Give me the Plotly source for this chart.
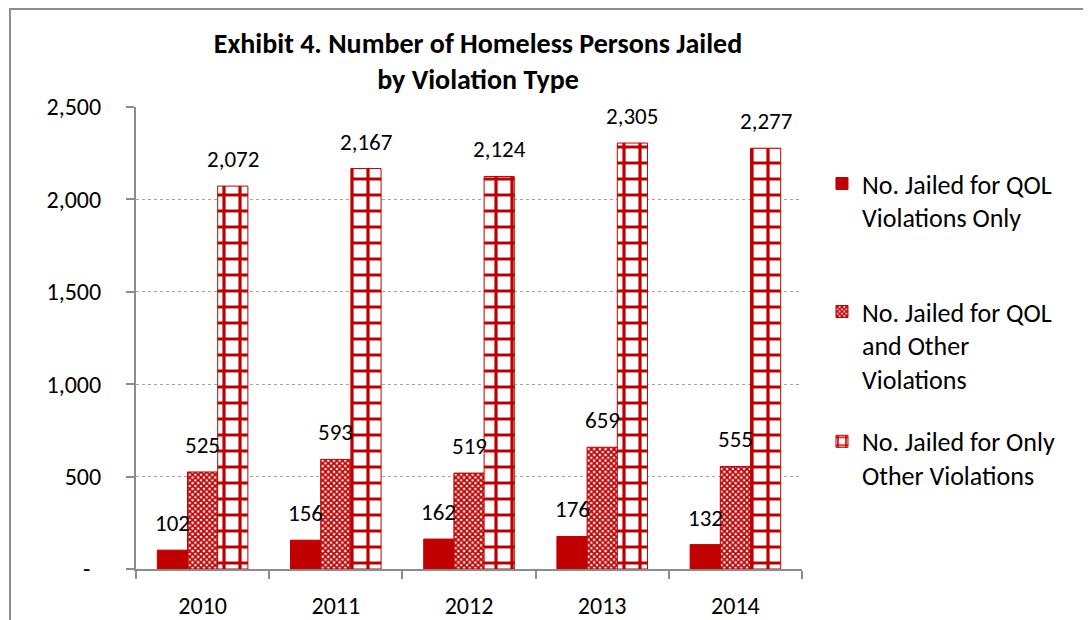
import plotly.graph_objects as go

years = ["2010", "2011", "2012", "2013", "2014"]
qol_only = [102, 156, 162, 176, 132]
qol_and_other = [525, 593, 519, 659, 555]
other_only = [2072, 2167, 2124, 2305, 2277]

series_names = [
    "No. Jailed for QOL<br>Violations Only",
    "No. Jailed for QOL<br>and Other<br>Violations",
    "No. Jailed for Only<br>Other Violations",
]
y_tickvals = [0, 500, 1000, 1500, 2000, 2500]
y_ticktext = ["-\u00a0\u00a0", "500", "1,000", "1,500", "2,000", "2,500"]

FONT = "Carlito, Lato, 'Open Sans', sans-serif"
RED = "#C00000"
GRAY = "#8C8C8C"

# page body adds an 8px margin, so the figure is 8px smaller than the window
W, H = 1083, 612
ML, MR, MT, MB = 128, 289, 99, 51
BARGAP = 0.32

fig = go.Figure()

fig.add_trace(go.Bar(
    x=years, y=qol_only, name=series_names[0], legend="legend",
    marker=dict(color=RED, line=dict(color=RED, width=1)),
))
fig.add_trace(go.Bar(
    x=years, y=qol_and_other, name=series_names[1], legend="legend2",
    marker=dict(color="white", line=dict(color=RED, width=1),
                pattern=dict(shape="x", fgcolor=RED, bgcolor="white", fgopacity=1,
                             size=4, solidity=0.7)),
))
fig.add_trace(go.Bar(
    x=years, y=other_only, name=series_names[2], legend="legend3",
    marker=dict(color="white", line=dict(color=RED, width=1),
                pattern=dict(shape="+", fgcolor=RED, bgcolor="white", fgopacity=1,
                             size=16, solidity=0.36)),
))

# data labels (category index positions on the category axis)
plot_w = W - ML - MR
plot_h = H - MT - MB
cat_w = plot_w / len(years)
bar_w = cat_w * (1 - BARGAP) / 3
annotations = []
for i, vals in enumerate([qol_only, qol_and_other, other_only]):
    for j, v in enumerate(vals):
        annotations.append(dict(
            x=j, y=v, xref="x", yref="y", text=f"{v:,}", showarrow=False,
            xshift=(i - 1) * bar_w, yshift=11, yanchor="bottom", xanchor="center",
            font=dict(family=FONT, size=23, color="black"),
        ))

leg_common = dict(x=1.03, xanchor="left", yanchor="top", valign="top",
                  font=dict(family=FONT, size=26, color="black"),
                  itemwidth=30, bgcolor="rgba(0,0,0,0)")
fig.update_layout(
    width=W, height=H,
    margin=dict(l=ML, r=MR, t=MT, b=MB, autoexpand=False),
    paper_bgcolor="white", plot_bgcolor="white",
    barmode="group", bargap=BARGAP, bargroupgap=0,
    font=dict(family=FONT, size=23, color="black"),
    title=dict(
        text="<b>Exhibit 4. Number of Homeless Persons Jailed<br>by Violation Type</b>",
        x=(470 / W), xanchor="center", y=1 - 45 / H, yanchor="top",
        font=dict(family=FONT, size=28, color="black"),
    ),
    annotations=annotations,
    showlegend=True,
    legend=dict(y=0.885, **leg_common),
    legend2=dict(y=0.608, **leg_common),
    legend3=dict(y=0.327, **leg_common),
    shapes=[dict(
        type="rect", xref="paper", yref="paper",
        x0=(2 - ML) / plot_w, x1=1.6,
        y0=-0.3, y1=1 + (MT - 1) / plot_h,
        line=dict(color=GRAY, width=2), fillcolor="rgba(0,0,0,0)", layer="below",
    )],
)

fig.update_xaxes(
    type="category", showline=True, linecolor=GRAY, linewidth=2, automargin=False,
    ticks="outside", tickson="boundaries", ticklen=8, tickcolor=GRAY, tickwidth=2,
    showgrid=False, ticklabelstandoff=14,
    tickfont=dict(family=FONT, size=24, color="black"),
)
fig.update_yaxes(
    range=[0, 2500], tickvals=y_tickvals, ticktext=y_ticktext, automargin=False,
    showline=True, linecolor=GRAY, linewidth=2,
    ticks="outside", ticklen=8, tickcolor=GRAY, tickwidth=2,
    showgrid=True, gridcolor="#A6A6A6", griddash="dot", gridwidth=1,
    zeroline=False, ticklabelstandoff=20,
    tickfont=dict(family=FONT, size=24, color="black"),
)

fig.write_html("out.html")
